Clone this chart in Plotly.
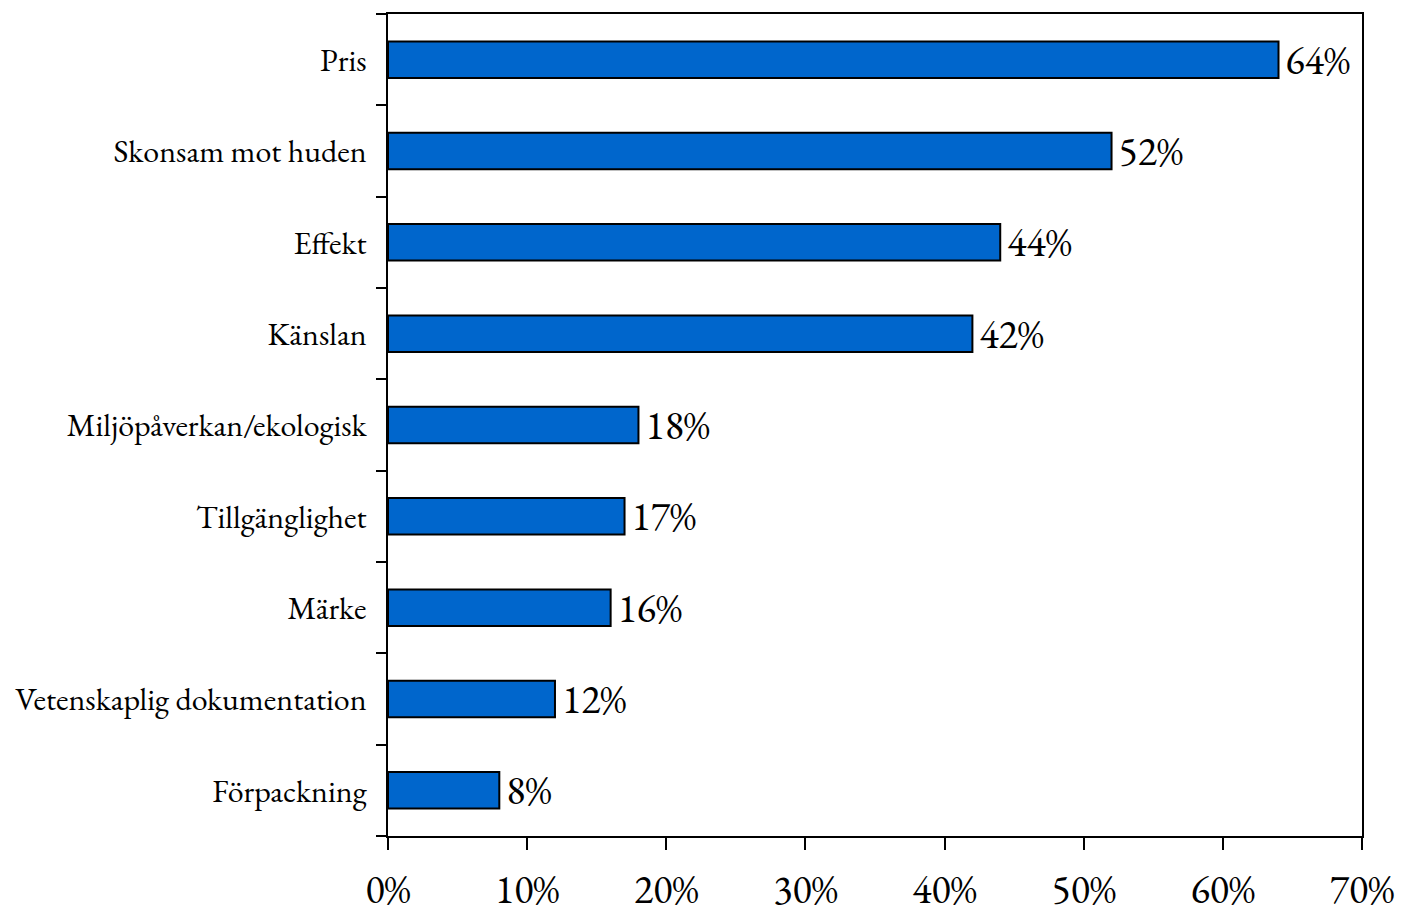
import plotly.graph_objects as go

categories = ["Pris", "Skonsam mot huden", "Effekt", "Känslan", "Miljöpåverkan/ekologisk",
              "Tillgänglighet", "Märke", "Vetenskaplig dokumentation", "Förpackning"]
values = [64, 52, 44, 42, 18, 17, 16, 12, 8]
x_ticks = [0, 10, 20, 30, 40, 50, 60, 70]
x_tick_labels = [f"{v}%" for v in x_ticks]

FONT = "Garamond, EB Garamond, Liberation Serif, serif"

fig = go.Figure(go.Bar(
    x=values, y=categories, orientation="h",
    marker=dict(color="#0066CC", line=dict(color="black", width=2)),
    width=0.4,
    text=[f"\u2009{v}%" for v in values], textposition="outside",
    constraintext="none",
    textfont=dict(family=FONT, size=40, color="black"),
    cliponaxis=False,
))

fig.update_layout(
    width=1404, height=913,
    margin=dict(l=380, r=50, t=6, b=85),
    plot_bgcolor="white", paper_bgcolor="white",
    showlegend=False,
    font=dict(family=FONT, color="black"),
    xaxis=dict(range=[0, 70], tickvals=x_ticks, ticktext=x_tick_labels,
               ticks="outside", ticklen=12, tickwidth=2, tickcolor="black",
               showline=True, linecolor="black", linewidth=2, mirror=True,
               showgrid=False, zeroline=False, automargin=False, ticklabelstandoff=5,
               tickfont=dict(family=FONT, size=40, color="black")),
    yaxis=dict(categoryorder="array", categoryarray=categories[::-1],
               range=[-0.5, len(categories) - 0.5],
               tickson="boundaries", ticks="outside", ticklen=10, tickwidth=2, tickcolor="black",
               showline=True, linecolor="black", linewidth=2, mirror=True,
               showgrid=False, zeroline=False, ticklabelstandoff=13, automargin=False,
               tickfont=dict(family=FONT, size=32, color="black")),
)

fig.write_html("out.html")
